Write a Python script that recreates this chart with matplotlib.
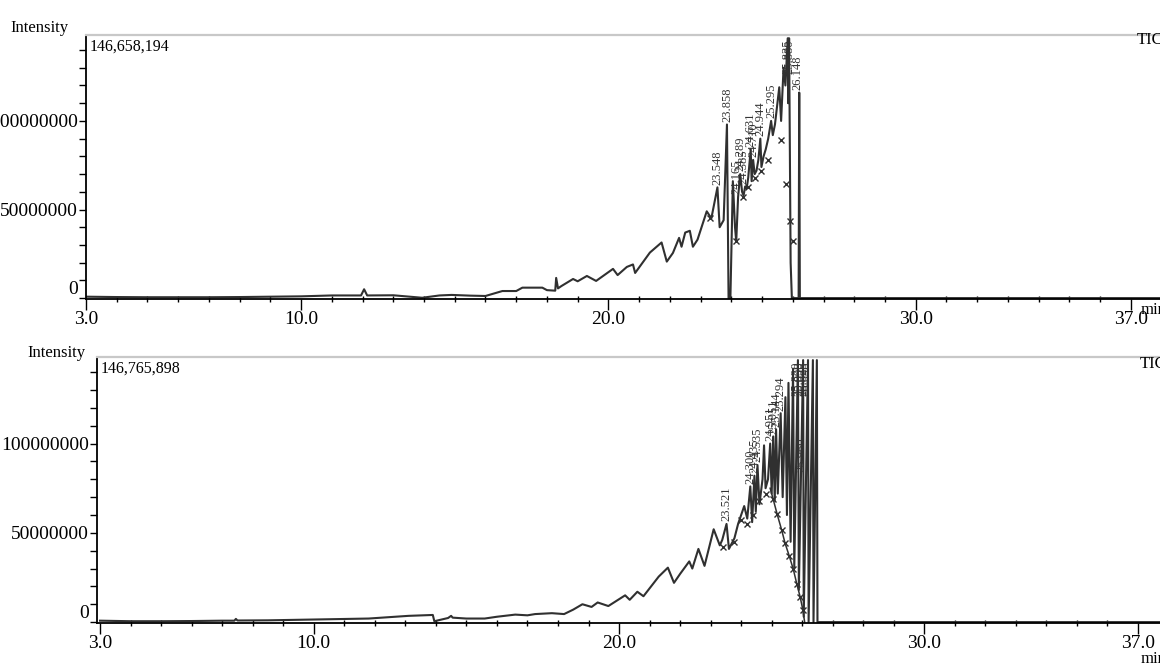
import numpy as np
import matplotlib
matplotlib.use('Agg')
import matplotlib.pyplot as plt
from matplotlib.ticker import MultipleLocator, FixedLocator, FuncFormatter

plt.rcParams['font.family'] = ['Liberation Serif', 'DejaVu Serif']

###########################################################
###              Data (intensity in millions of counts)
###########################################################
top_max = 146658194
top_time = [3.0, 4.0, 5.0, 6.0, 7.0, 8.0, 9.0, 10.0, 11.0, 11.95, 12.05, 12.15,
            13.0, 13.94, 14.5, 14.9, 15.5, 16.0, 16.55, 17.0, 17.2, 17.85, 18.0,
            18.27, 18.3, 18.36, 18.47, 18.85, 19.0, 19.3, 19.6, 20.15, 20.3, 20.6,
            20.8, 20.87, 21.35, 21.73, 21.9, 22.1, 22.3, 22.38, 22.5, 22.65, 22.75,
            22.9, 23.2, 23.35, 23.548, 23.62, 23.75, 23.858, 23.91, 23.97, 24.05,
            24.12, 24.16, 24.22, 24.289, 24.35, 24.40, 24.45, 24.50, 24.55, 24.631,
            24.66, 24.710, 24.76, 24.82, 24.88, 24.944, 24.98, 25.05, 25.12, 25.20,
            25.295, 25.35, 25.42, 25.50, 25.56, 25.62, 25.70, 25.76, 25.835, 25.85,
            25.880, 25.93, 25.97, 26.19, 26.21, 26.23, 37.95]
top_int = [0.8, 0.6, 0.5, 0.5, 0.5, 0.6, 0.8, 1.0, 1.5, 1.5, 5.0, 1.5,
           1.6, 0.2, 1.5, 1.8, 1.4, 1.2, 4.0, 4.0, 5.9, 5.9, 4.5,
           4.2, 11.4, 5.5, 6.8, 10.8, 9.5, 12.5, 9.7, 16.5, 13.0, 17.6,
           19.0, 14.2, 25.7, 31.4, 20.6, 25.5, 34.0, 29.0, 37.0, 38.0, 29.0,
           33.0, 49.0, 45.0, 62.5, 40.0, 44.0, 98.0, 0.0, 0.0, 66.0,
           40.0, 32.0, 57.0, 70.0, 60.0, 58.0, 63.0, 62.0, 68.0, 84.0,
           66.0, 78.0, 70.0, 72.0, 78.0, 90.0, 74.0, 80.0, 84.0, 90.0,
           100.0, 92.0, 98.0, 110.0, 119.0, 100.0, 130.0, 120.0, 146.66, 110.0,
           146.66, 20.0, 0.0, 0.0, 116.0, 0.0, 0.0]
top_mark_time = [23.29, 24.16, 24.38, 24.54, 24.76, 24.98, 25.19, 25.63, 25.79, 25.90, 26.0]
top_mark_int = [45.0, 32.4, 57.0, 62.7, 68.0, 72.0, 78.0, 89.0, 64.6, 43.8, 32.4]
top_peak_time = [23.548, 23.858, 24.165, 24.289, 24.385, 24.631, 24.710, 24.944, 25.295,
                 25.835, 25.880, 26.148]
top_peak_label = ['23.548', '23.858', '24.165', '24.289', '24.385', '24.631', '24.710',
                  '24.944', '25.295', '25.835', '25.880', '26.148']

bot_max = 146765898
bot_time = [3.0, 4.0, 5.0, 6.0, 7.0, 7.4, 7.45, 7.5, 8.5, 9.5, 10.5, 11.8, 13.1, 13.9,
            13.95, 14.4, 14.5, 14.55, 15.0, 15.6, 16.0, 16.6, 17.0, 17.25, 17.8, 18.2,
            18.5, 18.8, 19.1, 19.3, 19.65, 20.2, 20.35, 20.6, 20.8, 21.3, 21.6, 21.8,
            22.0, 22.3, 22.4, 22.6, 22.8, 23.1, 23.3, 23.38, 23.521, 23.6, 23.78, 23.9,
            24.0, 24.1, 24.2, 24.300, 24.36, 24.435, 24.48, 24.535, 24.60, 24.70, 24.75,
            24.80, 24.88, 24.951, 25.0, 25.051, 25.10, 25.144, 25.20, 25.294, 25.36,
            25.45, 25.50, 25.55, 25.62, 25.70, 25.74, 25.86, 25.89, 26.03, 26.05, 26.19,
            26.21, 26.35, 26.37, 26.48, 26.50, 37.8]
bot_int = [0.8, 0.5, 0.5, 0.6, 0.8, 0.8, 1.8, 0.9, 1.0, 1.3, 1.6, 2.0, 3.5, 4.0,
           0.5, 2.3, 3.5, 2.5, 2.0, 2.0, 3.0, 4.2, 3.8, 4.5, 5.0, 4.5,
           7.0, 10.0, 8.5, 11.0, 9.0, 15.0, 12.5, 17.0, 14.5, 25.5, 30.5, 22.0,
           27.0, 34.0, 30.0, 41.0, 31.5, 52.0, 43.0, 46.0, 55.0, 41.0, 47.0, 55.0,
           60.0, 65.0, 58.0, 76.0, 56.0, 82.0, 62.0, 88.0, 66.0, 80.0, 99.0,
           75.0, 80.0, 100.0, 72.0, 104.0, 68.0, 108.0, 72.0, 117.0, 70.0,
           126.0, 60.0, 134.0, 45.0, 142.0, 30.0, 146.77, 18.0, 146.77, 3.0, 146.77,
           0.0, 146.77, 0.0, 146.77, 0.0, 0.0]
bot_mark_time = [23.4, 23.75, 24.0, 24.2, 24.4, 24.6, 24.8, 25.05, 25.18, 25.33, 25.44,
                 25.58, 25.71, 25.82, 25.93, 26.02]
bot_mark_int = [42.0, 45.0, 57.0, 55.0, 60.0, 68.0, 72.0, 68.8, 60.4, 51.4, 44.1,
                36.8, 29.5, 21.6, 14.3, 7.0]
bot_env_time = [24.95, 25.05, 25.18, 25.33, 25.44, 25.58, 25.71, 25.82, 25.93, 26.02, 26.08]
bot_env_int = [75.0, 68.8, 60.4, 51.4, 44.1, 36.8, 29.5, 21.6, 14.3, 7.0, 0.0]
bot_peak_time = [23.521, 24.300, 24.435, 24.535, 24.951, 25.051, 25.144, 25.294,
                 25.820, 25.898, 25.960, 26.025, 26.098]
bot_peak_label = ['23.521', '24.300', '24.435', '24.535', '24.951', '25.051', '25.144',
                  '25.294', '25.820', '25.898', '25.960', '26.025', '26.098']

x_major = [3.0, 10.0, 20.0, 30.0, 37.0]
y_major = [0, 50000000, 100000000]

LINE = '#303030'


def draw_panel(ax, time, inten, mk_t, mk_i, pk_t, pk_lab, vmax, xlim, env=None):
    t = np.asarray(time)
    i = np.asarray(inten) * 1e6
    ymax = 148.5e6
    ax.plot(t, i, color=LINE, lw=1.5)
    if env is not None:
        ax.plot(env[0], np.asarray(env[1]) * 1e6, color=LINE, lw=1.1)
    ax.plot(mk_t, np.asarray(mk_i) * 1e6, ls='none', marker='x', ms=5, mew=1.0, color=LINE)

    for pt, lab in zip(pk_t, pk_lab):
        near = np.abs(t - pt) <= 0.07
        peak = i[near].max() if near.any() else np.interp(pt, t, i)
        y = min(peak + 1.5e6, ymax - 22e6)
        ax.text(pt, y, lab, rotation=90, ha='center', va='bottom', fontsize=9, color='#333333')

    ax.set_xlim(*xlim)
    ax.set_ylim(-0.5e6, ymax)
    ax.xaxis.set_major_locator(FixedLocator(x_major))
    ax.xaxis.set_minor_locator(MultipleLocator(1.0))
    ax.xaxis.set_major_formatter(FuncFormatter(lambda v, p: '%.1f' % v))
    ax.yaxis.set_major_locator(FixedLocator(y_major))
    ax.yaxis.set_minor_locator(MultipleLocator(10e6))
    ax.yaxis.set_major_formatter(FuncFormatter(lambda v, p: '%d' % v))
    ax.tick_params(axis='x', which='major', direction='out', length=8, width=1, labelsize=14, pad=1)
    ax.tick_params(axis='x', which='minor', direction='inout', length=5, width=1)
    ax.tick_params(axis='y', which='both', direction='out', length=5, width=1, labelsize=14, pad=1)
    ax.yaxis.get_majorticklabels()[0].set_va('bottom')

    ax.spines['right'].set_visible(False)
    ax.spines['top'].set_color('#c8c8c8')
    ax.spines['top'].set_linewidth(1.6)
    ax.spines['left'].set_linewidth(1.3)
    ax.spines['bottom'].set_linewidth(1.3)
    ax.text(0.003, 0.985, '{:,}'.format(vmax), transform=ax.transAxes, ha='left', va='top', fontsize=11.5)


fig = plt.figure(figsize=(11.6, 6.66), dpi=100)
W, H = 1160.0, 666.0

ax1 = fig.add_axes([86 / W, 1 - 299 / H, 1 - 86 / W, (299 - 35) / H])
draw_panel(ax1, top_time, top_int, top_mark_time, top_mark_int, top_peak_time, top_peak_label,
           top_max, (3.0, 37.95))

ax2 = fig.add_axes([97 / W, 1 - 623 / H, 1 - 97 / W, (623 - 357) / H])
draw_panel(ax2, bot_time, bot_int, bot_mark_time, bot_mark_int, bot_peak_time, bot_peak_label,
           bot_max, (2.9, 37.72), env=(bot_env_time, bot_env_int))

fig.text(10 / W, 1 - 28 / H, 'Intensity', ha='left', va='center', fontsize=12)
fig.text(27 / W, 1 - 353 / H, 'Intensity', ha='left', va='center', fontsize=12)
fig.text(1137 / W, 1 - 40 / H, 'TIC', ha='left', va='center', fontsize=12)
fig.text(1140 / W, 1 - 364 / H, 'TIC', ha='left', va='center', fontsize=12)
fig.text(1141 / W, 1 - 310 / H, 'min', ha='left', va='center', fontsize=12)
fig.text(1141 / W, 1 - 659 / H, 'min', ha='left', va='center', fontsize=12)

fig.savefig('out.png', dpi=100)
